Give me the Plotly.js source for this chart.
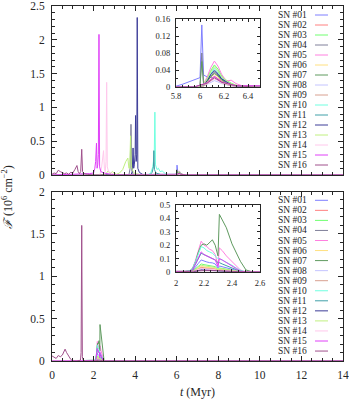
<!DOCTYPE html>
<html>
<head>
<meta charset="utf-8">
<script src="https://cdn.plot.ly/plotly-3.0.1.min.js"></script>
<style>
  html, body { margin: 0; padding: 0; background: #fff; }
  #chart { width: 349px; height: 399px; }
</style>
</head>
<body>
<div id="chart"></div>
<script>
// series names and colours
var names = ['SN #01', 'SN #02', 'SN #03', 'SN #04', 'SN #05', 'SN #06', 'SN #07', 'SN #08',
             'SN #09', 'SN #10', 'SN #11', 'SN #12', 'SN #13', 'SN #14', 'SN #15', 'SN #16'];
var colors = ['#7f7fff', '#ff8080', '#70ff70', '#80809a', '#ff80e0', '#ffe080', '#5f9a5f', '#c4c4ff',
              '#d8a090', '#70ffe0', '#40a0a8', '#3c3c98', '#c0f080', '#ffc8ec', '#e040f8', '#a0508c'];

// top panel: time (Myr) and flux per SN
var topHumpT = [0, 5.95, 6.0, 6.03, 6.06, 6.09, 6.12, 6.15, 6.18, 6.22, 6.26, 6.3, 6.36, 6.45, 14];
var topTimes = [
  [0, 5.8, 5.85, 5.9, 5.95, 5.98, 6.0, 6.015, 6.03, 6.06, 6.1, 6.15, 6.2, 6.3, 6.4, 14],
  topHumpT,
  topHumpT,
  [0, 3.7, 3.76, 3.8, 3.84, 3.9, 5.95, 6.0, 6.015, 6.03, 6.06, 6.09, 6.12, 6.15, 6.18, 6.22, 6.26, 6.3, 6.36, 6.45, 14],
  topHumpT,
  topHumpT,
  [0, 5.95, 6.0, 6.015, 6.03, 6.06, 6.09, 6.12, 6.15, 6.18, 6.22, 6.26, 6.3, 6.36, 6.45, 14],
  topHumpT,
  topHumpT,
  [0, 4.6, 4.75, 4.85, 4.92, 4.95, 4.98, 5.05, 5.12, 5.2, 5.3, 5.45, 5.6, 5.95, 6.0, 6.03, 6.06, 6.09, 6.12, 6.15, 6.18, 6.22, 6.26, 6.3, 6.36, 6.45, 14],
  [0, 4.7, 4.82, 4.88, 4.9, 4.93, 5.0, 5.15, 5.3, 5.95, 6.0, 6.03, 6.06, 6.09, 6.12, 6.15, 6.18, 6.22, 6.26, 6.3, 6.36, 6.45, 14],
  [0, 3.8, 3.86, 3.9, 3.93, 3.96, 4.0, 4.02, 4.05, 4.08, 4.1, 4.13, 4.2, 4.35, 4.5, 5.95, 6.0, 6.03, 6.06, 6.09, 6.12, 6.15, 6.18, 6.22, 6.26, 6.3, 6.36, 6.45, 14],
  [0, 2.5, 2.6, 2.7, 2.8, 2.9, 3.0, 3.1, 3.25, 3.4, 3.55, 3.65, 3.7, 3.74, 3.78, 3.82, 3.9, 4.0, 4.2, 4.4, 5.95, 6.0, 6.03, 6.06, 6.09, 6.12, 6.15, 6.18, 6.22, 6.26, 6.3, 6.36, 6.45, 14],
  [0, 2.3, 2.38, 2.44, 2.48, 2.52, 2.56, 2.6, 2.63, 2.66, 2.72, 2.85, 3.0, 3.2, 5.95, 6.06, 6.12, 6.18, 6.3, 6.45, 14],
  [0, 1.5, 1.8, 2.0, 2.06, 2.1, 2.14, 2.17, 2.2, 2.23, 2.26, 2.29, 2.35, 2.5, 2.7, 3.0, 5.95, 6.06, 6.12, 6.18, 6.3, 6.45, 14],
  [0, 0.1, 0.2, 0.3, 0.4, 0.5, 0.6, 0.7, 0.8, 0.9, 1.0, 1.1, 1.2, 1.26, 1.32, 1.38, 1.43, 1.47, 1.55, 1.7, 2.0, 5.95, 6.06, 6.12, 6.18, 6.3, 6.45, 14]
];
var topFlux = [
  [0, 0.002, 0.006, 0.011, 0.016, 0.02, 0.022, 0.146, 0.028, 0.024, 0.022, 0.017, 0.01, 0.003, 0, 0],
  [0, 0, 0.001, 0.003, 0.01, 0.019, 0.025, 0.02, 0.013, 0.008, 0.004, 0.002, 0.001, 0, 0],
  [0, 0, 0.002, 0.006, 0.021, 0.039, 0.052, 0.042, 0.026, 0.016, 0.009, 0.004, 0.002, 0, 0],
  [0, 0, 0.1, 0.75, 0.08, 0.01, 0, 0.003, 0.08, 0.008, 0.014, 0.026, 0.035, 0.028, 0.018, 0.011, 0.006, 0.003, 0.001, 0, 0],
  [0, 0, 0.002, 0.007, 0.024, 0.046, 0.061, 0.049, 0.03, 0.014, 0.016, 0.008, 0.002, 0, 0],
  [0, 0, 0.001, 0.004, 0.012, 0.023, 0.03, 0.024, 0.015, 0.009, 0.005, 0.002, 0.001, 0, 0],
  [0, 0, 0.003, 0.06, 0.006, 0.013, 0.024, 0.032, 0.026, 0.016, 0.01, 0.005, 0.002, 0.001, 0, 0],
  [0, 0, 0.001, 0.002, 0.006, 0.011, 0.015, 0.012, 0.008, 0.005, 0.003, 0.001, 0, 0, 0],
  [0, 0, 0.001, 0.002, 0.008, 0.015, 0.02, 0.016, 0.01, 0.006, 0.003, 0.002, 0.001, 0, 0],
  [0, 0, 0.03, 0.12, 0.3, 0.93, 0.15, 0.08, 0.1, 0.05, 0.06, 0.02, 0, 0, 0.002, 0.005, 0.018, 0.034, 0.045, 0.036, 0.023, 0.014, 0.007, 0.003, 0.001, 0, 0],
  [0, 0, 0.04, 0.12, 0.36, 0.08, 0.03, 0.01, 0, 0, 0.002, 0.005, 0.016, 0.03, 0.04, 0.032, 0.02, 0.012, 0.006, 0.003, 0.001, 0, 0],
  [0, 0, 0.05, 0.4, 0.1, 0.15, 0.3, 0.88, 0.2, 0.3, 2.33, 0.1, 0.04, 0.01, 0, 0, 0.002, 0.005, 0.015, 0.029, 0.038, 0.03, 0.019, 0.012, 0.006, 0.003, 0.001, 0, 0],
  [0, 0, 0.02, 0.06, 0.02, 0.05, 0.03, 0.01, 0.03, 0.08, 0.2, 0.25, 0.1, 0.1, 0.58, 0.12, 0.05, 0.02, 0.01, 0, 0, 0.002, 0.006, 0.019, 0.036, 0.048, 0.038, 0.024, 0.015, 0.008, 0.004, 0.002, 0, 0],
  [0, 0, 0.1, 0.28, 0.36, 0.1, 0.05, 0.2, 1.37, 0.12, 0.05, 0.03, 0.01, 0, 0, 0.008, 0.02, 0.01, 0.003, 0, 0],
  [0, 0.01, 0.02, 0.03, 0.1, 0.2, 0.47, 0.1, 0.15, 0.3, 2.08, 0.12, 0.05, 0.03, 0.02, 0, 0, 0.01, 0.025, 0.012, 0.003, 0, 0],
  [0.01, 0.03, 0.02, 0.07, 0.05, 0.03, 0.02, 0.03, 0.01, 0.04, 0.03, 0.08, 0.14, 0.05, 0.02, 0.05, 0.38, 0.05, 0.02, 0.01, 0, 0, 0.009, 0.022, 0.011, 0.003, 0, 0]
];

// bottom panel: SN #01-#15 share one time grid, SN #16 has its own
var botTimes = [0, 2.0, 2.05, 2.1, 2.12, 2.14, 2.16, 2.18, 2.2, 2.22, 2.24, 2.26, 2.28, 2.3, 2.31, 2.33, 2.36, 2.4, 2.43, 2.46, 2.5, 2.55, 14];
var botFlux = [
  [0, 0, 0, 0.004, 0.012, 0.035, 0.065, 0.09, 0.08, 0.075, 0.07, 0.068, 0.06, 0.03, 0.045, 0.04, 0.03, 0.018, 0.01, 0.004, 0, 0, 0],
  [0, 0, 0, 0.001, 0.004, 0.013, 0.026, 0.035, 0.032, 0.03, 0.028, 0.026, 0.024, 0.012, 0.018, 0.016, 0.012, 0.007, 0.004, 0.001, 0, 0, 0],
  [0, 0, 0, 0.003, 0.008, 0.025, 0.045, 0.06, 0.055, 0.05, 0.047, 0.045, 0.04, 0.02, 0.03, 0.027, 0.02, 0.012, 0.007, 0.003, 0, 0, 0],
  [0, 0, 0, 0.001, 0.003, 0.008, 0.015, 0.02, 0.019, 0.018, 0.017, 0.016, 0.014, 0.008, 0.01, 0.009, 0.007, 0.004, 0.002, 0.001, 0, 0, 0],
  [0, 0, 0.002, 0.008, 0.03, 0.09, 0.17, 0.23, 0.2, 0.19, 0.17, 0.16, 0.13, 0.05, 0.18, 0.16, 0.12, 0.08, 0.045, 0.015, 0, 0, 0],
  [0, 0, 0, 0.002, 0.005, 0.015, 0.03, 0.04, 0.037, 0.034, 0.032, 0.03, 0.027, 0.014, 0.02, 0.018, 0.013, 0.008, 0.004, 0.002, 0, 0, 0],
  [0, 0, 0.002, 0.01, 0.03, 0.08, 0.15, 0.2, 0.21, 0.2, 0.22, 0.24, 0.2, 0.12, 0.43, 0.39, 0.33, 0.21, 0.14, 0.08, 0.015, 0, 0],
  [0, 0, 0, 0.001, 0.002, 0.007, 0.014, 0.02, 0.018, 0.017, 0.016, 0.015, 0.013, 0.007, 0.01, 0.009, 0.007, 0.004, 0.002, 0.001, 0, 0, 0],
  [0, 0, 0, 0.001, 0.004, 0.011, 0.022, 0.03, 0.028, 0.026, 0.024, 0.022, 0.02, 0.01, 0.015, 0.013, 0.01, 0.006, 0.003, 0.001, 0, 0, 0],
  [0, 0, 0.002, 0.008, 0.03, 0.08, 0.14, 0.19, 0.18, 0.16, 0.15, 0.14, 0.12, 0.1, 0.1, 0.09, 0.07, 0.05, 0.03, 0.012, 0, 0, 0],
  [0, 0, 0.001, 0.005, 0.02, 0.06, 0.1, 0.14, 0.13, 0.12, 0.11, 0.1, 0.09, 0.07, 0.07, 0.06, 0.045, 0.03, 0.018, 0.007, 0, 0, 0],
  [0, 0, 0, 0.001, 0.002, 0.006, 0.011, 0.015, 0.014, 0.013, 0.013, 0.012, 0.011, 0.006, 0.008, 0.007, 0.005, 0.003, 0.002, 0, 0, 0, 0],
  [0, 0, 0, 0.002, 0.007, 0.02, 0.038, 0.05, 0.046, 0.042, 0.04, 0.038, 0.034, 0.018, 0.026, 0.023, 0.017, 0.01, 0.006, 0.002, 0, 0, 0],
  [0, 0, 0, 0.001, 0.004, 0.012, 0.02, 0.026, 0.024, 0.022, 0.021, 0.02, 0.018, 0.009, 0.013, 0.012, 0.009, 0.005, 0.003, 0.001, 0, 0, 0],
  [0, 0, 0.001, 0.005, 0.02, 0.06, 0.11, 0.15, 0.13, 0.12, 0.11, 0.1, 0.09, 0.04, 0.1, 0.09, 0.07, 0.04, 0.02, 0.006, 0, 0, 0]
];
var bot16Times = [0, 0.1, 0.2, 0.3, 0.4, 0.5, 0.63, 0.7, 0.8, 0.9, 1.0, 1.2, 1.37, 1.4, 1.43, 1.46, 1.5, 1.6, 2.0, 2.2, 2.3, 2.5, 14];
var bot16Flux = [0.06, 0.04, 0.03, 0.065, 0.05, 0.07, 0.14, 0.1, 0.06, 0.02, 0, 0, 0.01, 0.1, 1.6, 0.05, 0.01, 0, 0, 0.01, 0.01, 0, 0];

var W = 349, H = 399;
function px(x) { return x / W; }
function py(y) { return 1 - y / H; }

var serif = 'Liberation Serif';
var ink = '#262626';

var traces = [];
function addSet(xa, ya, getT, getF) {
  for (var i = 0; i < 16; i++) {
    traces.push({
      x: getT(i), y: getF(i),
      xaxis: xa, yaxis: ya,
      type: 'scatter', mode: 'lines',
      line: {color: colors[i], width: 1},
      showlegend: false, hoverinfo: 'skip'
    });
  }
}
function botT(i) { return i == 15 ? bot16Times : botTimes; }
function botF(i) { return i == 15 ? bot16Flux : botFlux[i]; }
function topT(i) { return topTimes[i]; }
function topF(i) { return topFlux[i]; }

addSet('x', 'y', topT, topF);
addSet('x2', 'y2', botT, botF);
addSet('x3', 'y3', topT, topF);
addSet('x4', 'y4', botT, botF);

function axis(extra) {
  var base = {
    showline: true, linecolor: ink, linewidth: 1, mirror: 'ticks',
    ticks: 'inside', ticklen: 5, tickwidth: 1, tickcolor: ink,
    showgrid: false, zeroline: false, ticklabeloverflow: 'allow',
    tickfont: {family: serif, size: 11.5, color: ink}
  };
  for (var k in extra) base[k] = extra[k];
  return base;
}
var smallFont = {family: serif, size: 8.5, color: ink};

// hand-drawn key, text on the left and sample on the right like gnuplot
var annotations = [];
var shapes = [];
function addKey(y0, step) {
  for (var i = 0; i < 16; i++) {
    var y = y0 + step * i;
    annotations.push({
      xref: 'paper', yref: 'paper', x: px(309), y: py(y),
      xanchor: 'right', yanchor: 'middle', showarrow: false,
      text: names[i], font: {family: serif, size: 9.5, color: ink}
    });
    shapes.push({
      type: 'line', xref: 'paper', yref: 'paper',
      x0: px(315), x1: px(328), y0: py(y), y1: py(y),
      line: {color: colors[i], width: 1}
    });
  }
}
addKey(15, 10);
addKey(200.3, 10.05);

annotations.push({
  xref: 'paper', yref: 'paper', x: px(197), y: py(392),
  xanchor: 'center', yanchor: 'middle', showarrow: false,
  text: '<i>t</i> (Myr)', font: {family: serif, size: 12, color: ink}
});
annotations.push({
  xref: 'paper', yref: 'paper', x: px(8), y: py(197),
  xanchor: 'center', yanchor: 'middle', showarrow: false, textangle: -90,
  text: '<i>ℱ</i> (10<sup>6</sup> cm<sup>−2</sup>)', font: {family: serif, size: 12, color: ink}
});

var layout = {
  width: W, height: H,
  margin: {l: 0, r: 0, t: 0, b: 0},
  paper_bgcolor: '#fff', plot_bgcolor: '#fff',
  showlegend: false,
  font: {family: serif, color: ink},
  xaxis: axis({domain: [px(52), px(343)], range: [0, 14.0001], dtick: 2, anchor: 'y',
               showticklabels: false, minor: {dtick: 0.5, ticklen: 3, ticks: 'inside', tickcolor: ink}}),
  yaxis: axis({domain: [py(175), py(6)], range: [0, 2.5001], dtick: 0.5, anchor: 'x', ticklabelstandoff: 4,
               minor: {dtick: 0.1, ticklen: 3, ticks: 'inside', tickcolor: ink}}),
  xaxis2: axis({domain: [px(52), px(343)], range: [0, 14.0001], dtick: 2, anchor: 'y2', ticklabelstandoff: 3,
                minor: {dtick: 0.5, ticklen: 3, ticks: 'inside', tickcolor: ink}}),
  yaxis2: axis({domain: [py(361), py(191.5)], range: [0, 2.0001], dtick: 0.5, anchor: 'x2', ticklabelstandoff: 4,
                minor: {dtick: 0.1, ticklen: 3, ticks: 'inside', tickcolor: ink}}),
  xaxis3: axis({domain: [px(176), px(260)], range: [5.8, 6.5], dtick: 0.2, anchor: 'y3', ticklen: 3,
                tickfont: smallFont, ticklabelstandoff: 1,
                minor: {dtick: 0.05, ticklen: 2, ticks: 'inside', tickcolor: ink}}),
  yaxis3: axis({domain: [py(87), py(19)], range: [0, 0.16001], dtick: 0.04, anchor: 'x3', ticklen: 3,
                tickfont: smallFont, ticklabelstandoff: 3,
                minor: {dtick: 0.02, ticklen: 2, ticks: 'inside', tickcolor: ink}}),
  xaxis4: axis({domain: [px(176), px(260)], range: [2, 2.6001], dtick: 0.2, anchor: 'y4', ticklen: 3,
                tickfont: smallFont, ticklabelstandoff: 3,
                minor: {dtick: 0.05, ticklen: 2, ticks: 'inside', tickcolor: ink}}),
  yaxis4: axis({domain: [py(272), py(205)], range: [0, 0.5001], dtick: 0.1, anchor: 'x4', ticklen: 3,
                tickfont: smallFont, ticklabelstandoff: 3,
                minor: {dtick: 0.05, ticklen: 2, ticks: 'inside', tickcolor: ink}}),
  annotations: annotations,
  shapes: shapes
};

Plotly.newPlot('chart', traces, layout, {displayModeBar: false, staticPlot: true});
</script>
</body>
</html>
